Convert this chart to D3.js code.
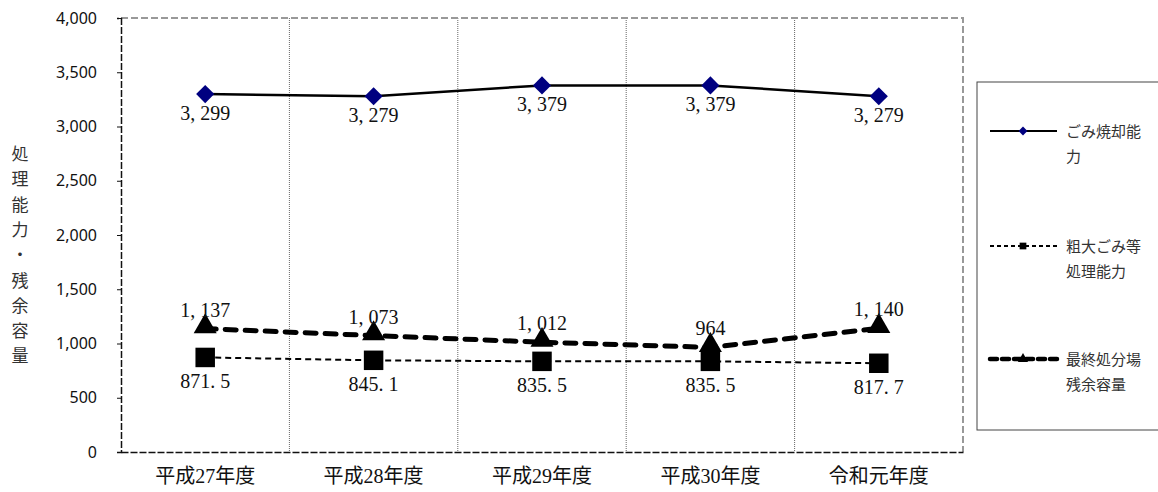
<!DOCTYPE html>
<html>
<head>
<meta charset="utf-8">
<script src="https://cdn.jsdelivr.net/npm/d3@7"></script>
<style>
body { margin: 0; background: #fff; }
svg { display: block; }
</style>
</head>
<body>
<svg id="chart" width="1158" height="492"></svg>
<script>
// categories and series
var years = ["平成27年度", "平成28年度", "平成29年度", "平成30年度", "令和元年度"];
var incineration = [3299, 3279, 3379, 3379, 3279];
var bulkyWaste = [871.5, 845.1, 835.5, 835.5, 817.7];
var landfillLeft = [1137, 1073, 1012, 964, 1140];
var yTicks = [0, 500, 1000, 1500, 2000, 2500, 3000, 3500, 4000];
var seriesNames = [["ごみ焼却能", "力"], ["粗大ごみ等", "処理能力"], ["最終処分場", "残余容量"]];
var yTitle = "処理能力・残余容量";

var svg = d3.select("#chart");
var plotL = 121, plotR = 963, plotT = 18, plotB = 452;
var serif = "'Liberation Serif', 'Noto Sans CJK JP', serif";
var sans = "'Noto Sans', 'Liberation Sans', sans-serif";

var x = d3.scaleBand().domain(years).range([plotL, plotR]);
var y = d3.scaleLinear().domain([0, 4000]).range([plotB, plotT]);
var cx = function(i){ return x(years[i]) + x.bandwidth() / 2; };

// vertical dotted separators
svg.append("g").selectAll("line")
	.data(years.slice(1))
	.enter().append("line")
	.attr("x1", function(d){ return x(d); })
	.attr("x2", function(d){ return x(d); })
	.attr("y1", plotT).attr("y2", plotB)
	.attr("stroke", "#666").attr("stroke-width", 1).attr("stroke-dasharray", "1,1");

// top and right frame, gray dashed
svg.append("path")
	.attr("d", "M" + plotL + "," + plotT + "H" + plotR + "V" + plotB)
	.attr("fill", "none").attr("stroke", "#999").attr("stroke-width", 2).attr("stroke-dasharray", "7,3");

// y axis
var yAxis = svg.append("g")
	.attr("transform", "translate(" + plotL + ",0)")
	.call(d3.axisLeft(y).tickValues(yTicks).tickSize(4).tickPadding(20).tickFormat(d3.format(",")));
yAxis.select(".domain").attr("stroke", "#111").attr("stroke-width", 1.5).attr("stroke-dasharray", "7,2");
yAxis.selectAll("line").attr("stroke", "#111");
yAxis.selectAll("text").attr("font-family", sans).attr("font-size", 16).attr("fill", "#111");

// x axis
var xAxis = svg.append("g")
	.attr("transform", "translate(0," + plotB + ")")
	.call(d3.axisBottom(x).tickSize(0).tickPadding(14));
xAxis.select(".domain").attr("stroke", "#111").attr("stroke-width", 1.5).attr("stroke-dasharray", "7,2");
xAxis.selectAll("text").attr("font-family", serif).attr("font-size", 20).attr("fill", "#111").attr("dy", "0.85em");

// vertical y title
svg.append("g").selectAll("text")
	.data(yTitle.split(""))
	.enter().append("text")
	.attr("x", 20)
	.attr("y", function(d, i){ return 160 + i * 25.3; })
	.attr("text-anchor", "middle")
	.attr("font-family", "'Noto Sans CJK JP', sans-serif")
	.attr("font-size", 17)
	.attr("fill", "#333")
	.text(function(d){ return d; });

var line = d3.line().x(function(d, i){ return cx(i); }).y(function(d){ return y(d); });
// wide comma / period like the original Mincho labels
var fmt = function(v){ return d3.format(",")(v).replace(",", ", ").replace(".", ". "); };

// lines
svg.append("path").datum(bulkyWaste).attr("d", line)
	.attr("fill", "none").attr("stroke", "#000").attr("stroke-width", 2).attr("stroke-dasharray", "6,4");
svg.append("path").datum(landfillLeft).attr("d", line)
	.attr("fill", "none").attr("stroke", "#000").attr("stroke-width", 5).attr("stroke-linecap", "round").attr("stroke-dasharray", "11,9");
svg.append("path").datum(incineration).attr("d", line)
	.attr("fill", "none").attr("stroke", "#000").attr("stroke-width", 2.5);

// markers
var diamond = d3.symbol().type(d3.symbolDiamond2).size(210);
var square = d3.symbol().type(d3.symbolSquare).size(380);
var triangle = d3.symbol().type(d3.symbolTriangle).size(230);

svg.append("g").selectAll("path").data(bulkyWaste).enter().append("path")
	.attr("d", square).attr("transform", function(d, i){ return "translate(" + cx(i) + "," + y(d) + ")"; })
	.attr("fill", "#000");
svg.append("g").selectAll("path").data(landfillLeft).enter().append("path")
	.attr("d", triangle).attr("transform", function(d, i){ return "translate(" + cx(i) + "," + (y(d) - 2) + ")"; })
	.attr("fill", "#000");
svg.append("g").selectAll("path").data(incineration).enter().append("path")
	.attr("d", diamond).attr("transform", function(d, i){ return "translate(" + cx(i) + "," + y(d) + ")"; })
	.attr("fill", "#000080");

// data labels
function labels(data, dy){
	svg.append("g").selectAll("text").data(data).enter().append("text")
		.attr("x", function(d, i){ return cx(i); })
		.attr("y", function(d){ return y(d) + dy; })
		.attr("text-anchor", "middle")
		.attr("font-family", serif).attr("font-size", 20).attr("fill", "#111")
		.text(fmt);
}
labels(incineration, 26);
labels(bulkyWaste, 31);
labels(landfillLeft, -12);

// legend
var lg = svg.append("g");
lg.append("rect").attr("x", 977).attr("y", 82).attr("width", 190).attr("height", 348)
	.attr("fill", "#fff").attr("stroke", "#444").attr("stroke-width", 1);
var rows = [131, 246, 359];
var styles = [
	{w: 2, dash: null, cap: "butt", sym: d3.symbol().type(d3.symbolDiamond2).size(50), fill: "#000080"},
	{w: 2, dash: "4,3", cap: "butt", sym: d3.symbol().type(d3.symbolSquare).size(45), fill: "#000"},
	{w: 4.5, dash: "7,5", cap: "round", sym: d3.symbol().type(d3.symbolTriangle).size(45), fill: "#000"}
];
rows.forEach(function(ry, k){
	var s = styles[k];
	lg.append("line").attr("x1", 990).attr("x2", 1057).attr("y1", ry).attr("y2", ry)
		.attr("stroke", "#000").attr("stroke-width", s.w).attr("stroke-linecap", s.cap)
		.attr("stroke-dasharray", s.dash);
	lg.append("path").attr("d", s.sym).attr("transform", "translate(1023," + ry + ")").attr("fill", s.fill);
	seriesNames[k].forEach(function(t, j){
		lg.append("text").attr("x", 1066).attr("y", ry + 6 + j * 25)
			.attr("font-family", "'Noto Sans CJK JP', sans-serif").attr("font-size", 15).attr("fill", "#333")
			.text(t);
	});
});
</script>
</body>
</html>
